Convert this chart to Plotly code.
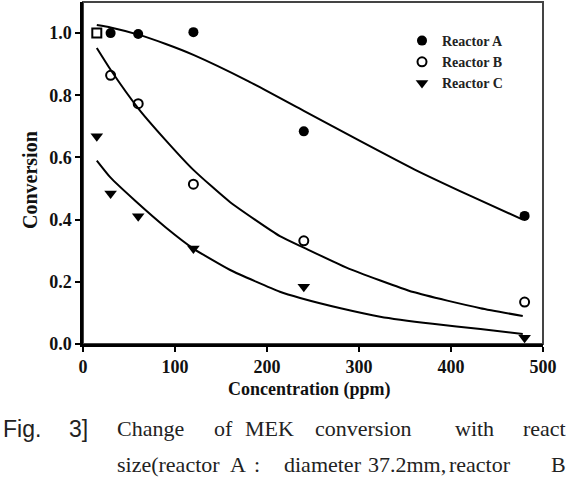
import plotly.graph_objects as go

# ---- data ----
conc_A = [30, 60, 120, 240, 480]
conv_A = [1.0, 0.997, 1.003, 0.684, 0.412]

conc_B = [30, 60, 120, 240, 480, 15]
conv_B = [0.864, 0.773, 0.514, 0.332, 0.135, 1.0]
sym_B = ["circle-open", "circle-open", "circle-open", "circle-open", "circle-open", "square-open"]

conc_C = [15, 30, 60, 120, 240, 480]
conv_C = [0.668, 0.484, 0.411, 0.307, 0.184, 0.02]

# fitted curves
fit_A_x = [15, 30, 60, 90, 120, 180, 240, 300, 360, 420, 478]
fit_A_y = [1.026, 1.018, 0.995, 0.965, 0.93, 0.845, 0.75, 0.655, 0.562, 0.478, 0.40]
fit_B_x = [15, 30, 60, 90, 120, 160, 214, 240, 287, 359, 432, 478]
fit_B_y = [0.952, 0.882, 0.758, 0.655, 0.56, 0.456, 0.347, 0.31, 0.245, 0.167, 0.115, 0.09]
fit_C_x = [15, 30, 57, 90, 120, 160, 214, 236, 280, 323, 380, 432, 478]
fit_C_y = [0.59, 0.535, 0.46, 0.375, 0.307, 0.238, 0.168, 0.148, 0.115, 0.088, 0.065, 0.048, 0.032]

x_ticks = [0, 100, 200, 300, 400, 500]
y_ticks = [0.0, 0.2, 0.4, 0.6, 0.8, 1.0]

caption_line1 = [("Change", 115), ("of", 211.7), ("MEK", 243), ("conversion", 313), ("with", 453), ("react", 521)]
caption_line2 = [("size(reactor", 115), ("A", 228), (":", 252), ("diameter", 282), ("37.2mm,", 366), ("reactor", 447), ("B", 549)]

SERIF = "Liberation Serif"
SANS = "Liberation Sans"

W, H = 568, 480
L, R, T, B = 83, 25, 2, 136
PW, PH = W - L - R, H - T - B


def px(x):
    return (x - L) / PW


def py(y):
    return (H - B - y) / PH


fig = go.Figure()

for fx, fy in [(fit_A_x, fit_A_y), (fit_B_x, fit_B_y), (fit_C_x, fit_C_y)]:
    fig.add_trace(go.Scatter(x=fx, y=fy, mode="lines",
                             line=dict(color="black", width=2, shape="spline", smoothing=0.5),
                             showlegend=False, hoverinfo="skip"))

fig.add_trace(go.Scatter(x=conc_A, y=conv_A, mode="markers", name="Reactor A",
                         marker=dict(symbol="circle", size=10, color="black")))
fig.add_trace(go.Scatter(x=conc_B, y=conv_B, mode="markers", name="Reactor B",
                         marker=dict(symbol=sym_B, size=9, color="black", line=dict(width=2, color="black"))))
fig.add_trace(go.Scatter(x=conc_C, y=conv_C, mode="markers", name="Reactor C",
                         marker=dict(symbol="triangle-down", size=11, color="black")))

fig.update_traces(cliponaxis=False, selector=dict(mode="markers"))

axis_common = dict(showgrid=False, zeroline=False, showline=True, linecolor="black", linewidth=2.5,
                   ticks="outside", ticklen=5, tickwidth=2, tickcolor="black",
                   tickfont=dict(family=SERIF, size=18, color="#111", weight="bold"))

fig.update_xaxes(range=[0, 500], tickvals=x_ticks, **axis_common)
fig.update_yaxes(range=[0, 1.1], tickvals=y_ticks, tickformat=".1f", **axis_common)

annotations = [
    dict(text="Concentration (ppm)", x=px(309), y=py(389), xref="paper", yref="paper", showarrow=False,
         xanchor="center", yanchor="middle", font=dict(family=SERIF, size=18, color="#111", weight="bold")),
    dict(text="Conversion", x=px(30), y=py(180), xref="paper", yref="paper", showarrow=False, textangle=-90,
         xanchor="center", yanchor="middle", font=dict(family=SERIF, size=20, color="#111", weight="bold")),
    dict(text="Fig.", x=px(43), y=py(428.6), xref="paper", yref="paper", showarrow=False,
         xanchor="right", yanchor="middle", font=dict(family=SANS, size=23, color="#222")),
    dict(text="3]", x=px(66.7), y=py(428.6), xref="paper", yref="paper", showarrow=False,
         xanchor="left", yanchor="middle", font=dict(family=SANS, size=23, color="#222")),
]
for word, xpos in caption_line1:
    annotations.append(dict(text=word, x=px(xpos), y=py(428.6), xref="paper", yref="paper", showarrow=False,
                            xanchor="left", yanchor="middle", font=dict(family=SERIF, size=22, color="#222")))
for word, xpos in caption_line2:
    annotations.append(dict(text=word, x=px(xpos), y=py(464.6), xref="paper", yref="paper", showarrow=False,
                            xanchor="left", yanchor="middle", font=dict(family=SERIF, size=22, color="#222")))

fig.update_layout(
    width=W, height=H,
    margin=dict(l=L, r=R, t=T, b=B),
    paper_bgcolor="white", plot_bgcolor="white",
    showlegend=True,
    legend=dict(x=px(402), y=py(25), xanchor="left", yanchor="top", bgcolor="rgba(0,0,0,0)",
                font=dict(family=SERIF, size=14, color="#222", weight="bold"), tracegroupgap=0),
    annotations=annotations,
    shapes=[dict(type="rect", xref="paper", yref="paper", x0=0, y0=0, x1=1, y1=1,
                 line=dict(color="#444", width=2), layer="below")],
)

fig.write_html("out.html")
